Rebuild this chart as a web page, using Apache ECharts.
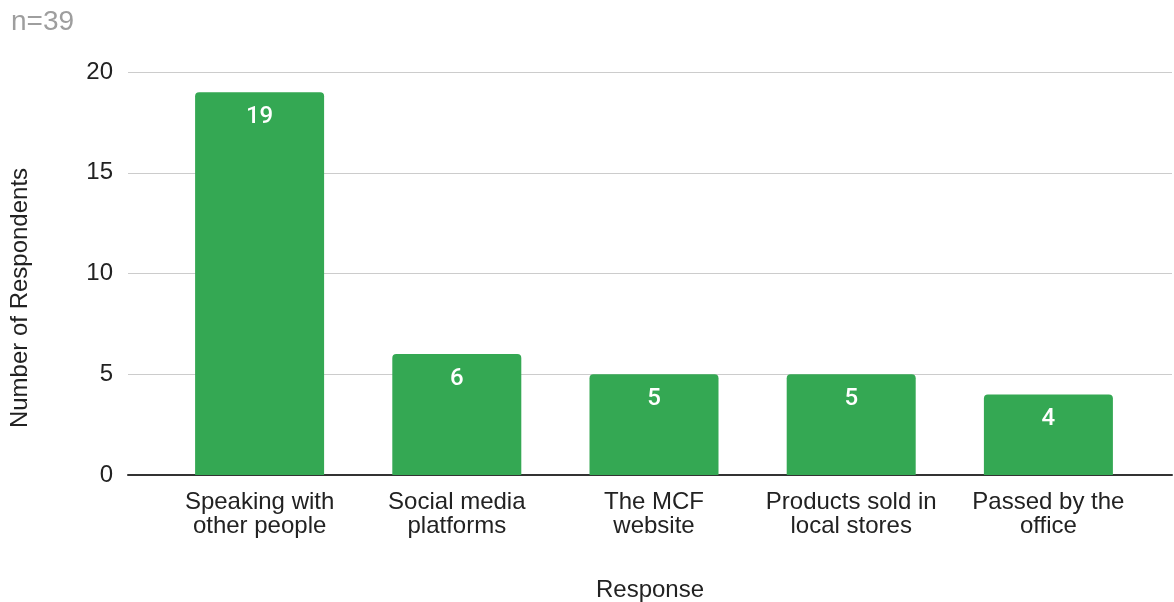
<!DOCTYPE html>
<html><head><meta charset="utf-8">
<script src="https://cdn.jsdelivr.net/npm/echarts@6/dist/echarts.min.js"></script>
<style>html,body{margin:0;padding:0;background:#fff}#c{width:1174px;height:602px}</style>
</head><body><div id="c"></div>
<script>
const categories = ["Speaking with\nother people", "Social media\nplatforms", "The MCF\nwebsite", "Products sold in\nlocal stores", "Passed by the\noffice"];
const respondents = [19, 6, 5, 5, 4];
const yTicks = [0, 5, 10, 15, 20];

const chart = echarts.init(document.getElementById('c'));
const font = '"Liberation Sans", Arial, sans-serif';
chart.setOption({
  animation: false,
  title: {text: 'n=39', left: 6, top: 3, textStyle: {fontFamily: font, fontSize: 28, fontWeight: 'normal', color: '#9e9e9e'}},
  graphic: [{
    type: 'text', x: 20, y: 298, rotation: Math.PI / 2,
    style: {text: 'Number of Respondents', fontFamily: font, fontSize: 24, fill: '#222', textAlign: 'center', textVerticalAlign: 'middle'}
  }],
  grid: [
    {left: 128, right: 2, top: 72, bottom: 127, containLabel: false, outerBoundsMode: 'none'},
    {left: 161, right: 27, top: 72, bottom: 127, containLabel: false, outerBoundsMode: 'none'}
  ],
  xAxis: [
    {type: 'category', gridIndex: 0, data: categories, axisLine: {lineStyle: {color: '#333', width: 2}}, axisTick: {show: false}, axisLabel: {show: false},
     name: 'Response', nameLocation: 'middle', nameGap: 103, nameTextStyle: {fontFamily: font, fontSize: 24, color: '#222'}},
    {type: 'category', gridIndex: 1, data: categories, axisLine: {show: false}, axisTick: {show: false},
     axisLabel: {margin: 15, fontFamily: font, fontSize: 24, color: '#222', lineHeight: 24, interval: 0}}
  ],
  yAxis: [
    {type: 'value', gridIndex: 0, min: 0, max: 20, interval: 5, axisLine: {show: false}, axisTick: {show: false},
     splitLine: {lineStyle: {color: '#cccccc', width: 1}},
     axisLabel: {margin: 15, fontFamily: font, fontSize: 24, color: '#222', formatter: v => yTicks.includes(v) ? String(v) : ''}},
    {type: 'value', gridIndex: 1, min: 0, max: 20, interval: 5, show: false}
  ],
  series: [{
    type: 'bar', xAxisIndex: 1, yAxisIndex: 1, data: respondents, barWidth: 129,
    itemStyle: {color: '#34a853', borderRadius: [4, 4, 0, 0]},
    label: {show: true, position: 'insideTop', distance: 13, color: '#fff', fontFamily: 'Roboto, sans-serif', fontWeight: 500, fontSize: 24}
  }]
});
</script></body></html>
